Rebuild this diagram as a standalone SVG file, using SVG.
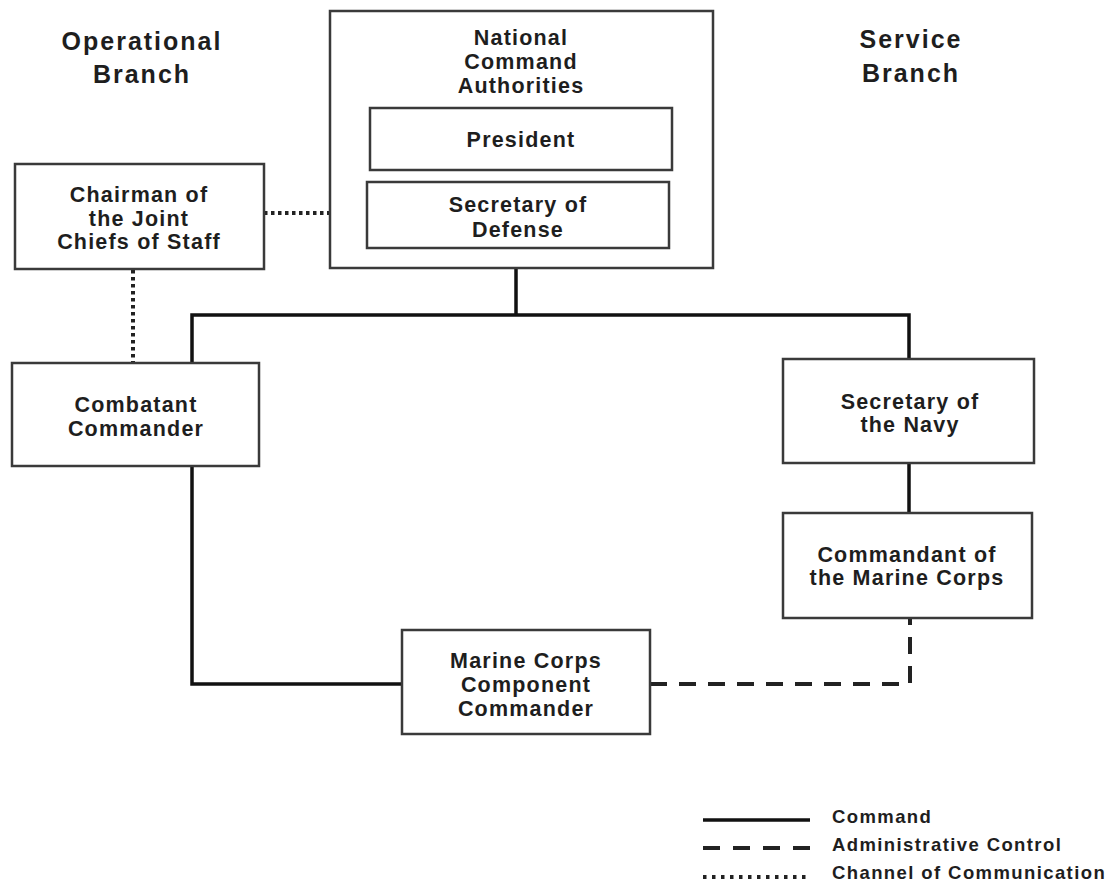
<svg xmlns="http://www.w3.org/2000/svg" width="1112" height="884" viewBox="0 0 1112 884">
<style>
text{font-family:"Liberation Sans",Arial,sans-serif;font-weight:bold;fill:#1e1e1e;text-anchor:middle}
.n{font-size:21.5px;letter-spacing:1.2px}
.h{font-size:25px;letter-spacing:2px}
.lg{font-size:18.5px;letter-spacing:1.4px;text-anchor:start}
.box{fill:#fff;stroke:#3a3a3a;stroke-width:2.5}
.cmd{fill:none;stroke:#111;stroke-width:3.5}
.adm{fill:none;stroke:#222;stroke-width:4;stroke-dasharray:17 12}
.com{fill:none;stroke:#222;stroke-width:4;stroke-dasharray:3.5 3.5}
</style>
<rect width="1112" height="884" fill="#fff"/>
<g id="headers">
<text class="h" x="142" y="50">Operational</text>
<text class="h" x="142" y="83">Branch</text>
<text class="h" x="911" y="48">Service</text>
<text class="h" x="911" y="82">Branch</text>
</g>
<g id="connectors">
<polyline class="cmd" points="516,268 516,315"/>
<polyline class="cmd" points="192,363 192,315 909,315 909,359"/>
<polyline class="cmd" points="909,463 909,513"/>
<polyline class="cmd" points="192,466 192,684 402,684"/>
<polyline class="adm" points="650,684 910,684 910,618"/>
<line class="com" x1="264" y1="213" x2="330" y2="213"/>
<line class="com" x1="133" y1="270" x2="133" y2="363"/>
</g>
<g id="nca">
<rect class="box" x="330" y="11" width="383" height="257"/>
<text class="n" x="521" y="45">National</text>
<text class="n" x="521" y="69">Command</text>
<text class="n" x="521" y="93">Authorities</text>
</g>
<g id="president">
<rect class="box" x="370" y="108" width="302" height="62"/>
<text class="n" x="521" y="147">President</text>
</g>
<g id="secdef">
<rect class="box" x="367" y="182" width="302" height="66"/>
<text class="n" x="518" y="212">Secretary of</text>
<text class="n" x="518" y="237">Defense</text>
</g>
<g id="cjcs">
<rect class="box" x="15" y="164" width="249" height="105"/>
<text class="n" x="139" y="202">Chairman of</text>
<text class="n" x="139" y="226">the Joint</text>
<text class="n" x="139" y="249">Chiefs of Staff</text>
</g>
<g id="combatant">
<rect class="box" x="12" y="363" width="247" height="103"/>
<text class="n" x="136" y="412">Combatant</text>
<text class="n" x="136" y="436">Commander</text>
</g>
<g id="secnav">
<rect class="box" x="783" y="359" width="251" height="104"/>
<text class="n" x="910" y="409">Secretary of</text>
<text class="n" x="910" y="432">the Navy</text>
</g>
<g id="cmc">
<rect class="box" x="783" y="513" width="249" height="105"/>
<text class="n" x="907" y="562">Commandant of</text>
<text class="n" x="907" y="585">the Marine Corps</text>
</g>
<g id="mccc">
<rect class="box" x="402" y="630" width="248" height="104"/>
<text class="n" x="526" y="668">Marine Corps</text>
<text class="n" x="526" y="692">Component</text>
<text class="n" x="526" y="716">Commander</text>
</g>
<g id="legend">
<line class="cmd" x1="703" y1="820" x2="810" y2="820"/>
<line x1="703" y1="848" x2="810" y2="848" stroke="#222" stroke-width="4" stroke-dasharray="17 13"/>
<line x1="703" y1="877" x2="810" y2="877" stroke="#222" stroke-width="4" stroke-dasharray="3.5 5.5"/>
<text class="lg" x="832" y="823">Command</text>
<text class="lg" x="832" y="851">Administrative Control</text>
<text class="lg" x="832" y="879">Channel of Communication</text>
</g>
</svg>
